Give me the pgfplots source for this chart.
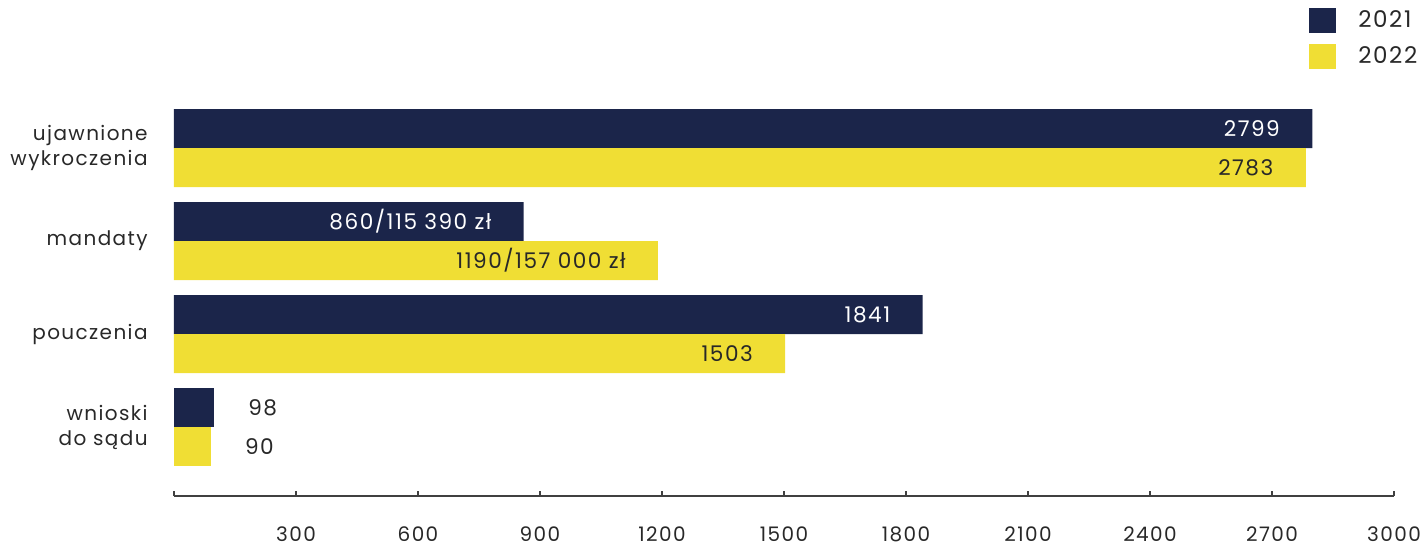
\documentclass[border=0pt]{standalone}
\usepackage{pgfplots}
\pgfplotsset{compat=1.18}
\usepackage{fontspec}
\setmainfont{Poppins}[LetterSpace=7]
\definecolor{navy}{RGB}{27,37,74}
\definecolor{yel}{RGB}{240,222,52}
\definecolor{txt}{RGB}{40,40,40}
\begin{document}
\begin{tikzpicture}
\path[use as bounding box] (0,0) rectangle (712.5pt,273.5pt);
\begin{axis}[
  at={(87pt,25.5pt)}, anchor=south west,
  scale only axis,
  width=610pt, height=206.5pt,
  xmin=0, xmax=3000, ymin=-0.742, ymax=3.7,
  xbar, bar width=19.5pt,
  axis x line*=bottom, axis y line*=left,
  y axis line style={draw=none},
  ytick={0,1,2,3},
  yticklabels={{wnioski\\do sądu},pouczenia,mandaty,{ujawnione\\wykroczenia}},
  ytick style={draw=none},
  yticklabel style={align=right, inner sep=0pt, xshift=-13pt, text=txt, font=\fontsize{10}{12.5}\selectfont},
  xtick={0,300,...,3000},
  xticklabels={,300,600,900,1200,1500,1800,2100,2400,2700,3000},
  tick align=inside, major tick length=2.5pt,
  x axis line style={draw=black!75, line width=0.75pt},
  xtick style={draw=black!75, line width=0.75pt},
  xticklabel style={inner sep=0pt, yshift=-15pt, text=txt, font=\fontsize{10}{12}\selectfont},
  point meta=explicit symbolic,
  nodes near coords,
  every node near coord/.append style={inner sep=0pt, font=\fontsize{10.8}{12}\selectfont},
  legend image code/.code={\path (0pt,0pt) (24.5pt,0pt); \fill[#1] (0pt,-6.25pt) rectangle (13.5pt,6.25pt);},
  legend style={draw=none, fill=none, at={(0.9303,1.1816)}, anchor=north west,
    inner sep=0pt, row sep=5.5pt, font=\fontsize{11.5}{12}\selectfont,
    nodes={inner sep=0pt, text=txt}},
  legend cell align=left,
]
\addplot[fill=navy, draw=none, bar shift=9.75pt,
  every node near coord/.append style={anchor=east, xshift=-16pt, text=white}]
  coordinates {(2799,3) [2799] (860,2) [860/115 390 zł] (1841,1) [1841]};
\addplot[fill=yel, draw=none, bar shift=-9.75pt,
  every node near coord/.append style={anchor=east, xshift=-16pt, text=txt}]
  coordinates {(2783,3) [2783] (1190,2) [1190/157 000 zł] (1503,1) [1503]};
\addplot[fill=navy, draw=none, bar shift=9.75pt, forget plot,
  every node near coord/.append style={anchor=west, xshift=17pt, text=txt}]
  coordinates {(98,0) [98]};
\addplot[fill=yel, draw=none, bar shift=-9.75pt, forget plot,
  every node near coord/.append style={anchor=west, xshift=17pt, text=txt}]
  coordinates {(90,0) [90]};
\legend{2021,2022}
\end{axis}
\end{tikzpicture}
\end{document}
